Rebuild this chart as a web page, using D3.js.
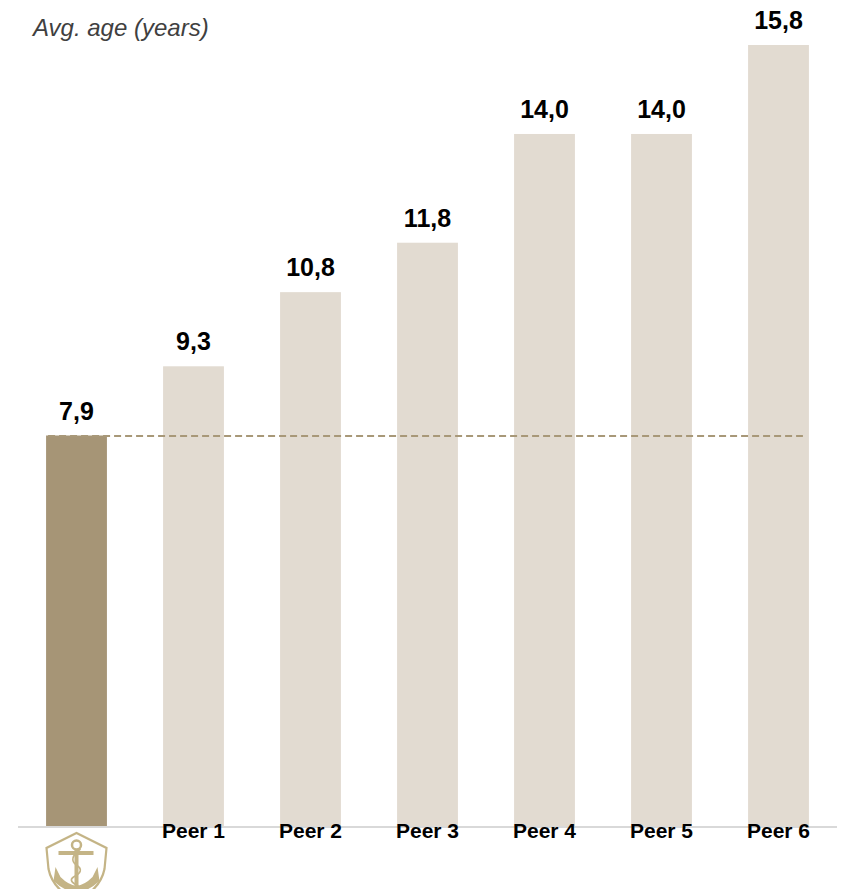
<!DOCTYPE html>
<html>
<head>
<meta charset="utf-8">
<script src="https://cdn.jsdelivr.net/npm/d3@7"></script>
<style>
  body { margin: 0; background: #fff; }
  text { font-family: "Liberation Sans", Arial, sans-serif; }
</style>
</head>
<body>
<script>
"use strict";

const categories = ["Own fleet", "Peer 1", "Peer 2", "Peer 3", "Peer 4", "Peer 5", "Peer 6"];
const ages = [7.9, 9.3, 10.8, 11.8, 14.0, 14.0, 15.8];
const valueLabels = ["7,9", "9,3", "10,8", "11,8", "14,0", "14,0", "15,8"];
const axisTitle = "Avg. age (years)";

const measurements = {
    width: 843,
    height: 889,
    baseline: 826,
    top: 45
};

const svgContainer = d3.select("body").append("svg")
    .attr("width", measurements.width)
    .attr("height", measurements.height);

const scaleX = d3.scaleBand()
    .domain(categories)
    .range([18, 837])
    .paddingInner(0.48)
    .paddingOuter(0.24);

const scaleY = d3.scaleLinear()
    .domain([0, 15.8])
    .range([measurements.baseline, measurements.top]);

// bars
svgContainer.selectAll(".bar")
    .data(ages)
    .enter()
    .append("rect")
    .attr("class", "bar")
    .attr("x", (d, i) => scaleX(categories[i]))
    .attr("y", d => scaleY(d))
    .attr("width", scaleX.bandwidth())
    .attr("height", d => measurements.baseline - scaleY(d))
    .attr("fill", (d, i) => i === 0 ? "#a69576" : "#e2dbd1");

// reference line at own fleet value
svgContainer.append("line")
    .attr("x1", scaleX(categories[0]) + 2)
    .attr("x2", scaleX(categories[6]) + scaleX.bandwidth() - 6)
    .attr("y1", scaleY(ages[0]) + 0.5)
    .attr("y2", scaleY(ages[0]) + 0.5)
    .attr("stroke", "#a89878")
    .attr("stroke-width", 2.2)
    .attr("stroke-dasharray", "7,4");

// baseline
svgContainer.append("line")
    .attr("x1", 18)
    .attr("x2", 837)
    .attr("y1", measurements.baseline + 1)
    .attr("y2", measurements.baseline + 1)
    .attr("stroke", "#d9d9d9")
    .attr("stroke-width", 2);

// value labels
svgContainer.selectAll(".value")
    .data(ages)
    .enter()
    .append("text")
    .attr("class", "value")
    .attr("x", (d, i) => scaleX(categories[i]) + scaleX.bandwidth() / 2)
    .attr("y", d => scaleY(d) - 16)
    .attr("text-anchor", "middle")
    .style("font-size", "25px")
    .style("font-weight", "bold")
    .attr("fill", "#000")
    .text((d, i) => valueLabels[i]);

// category labels (skip first, it gets the logo)
svgContainer.selectAll(".cat")
    .data(categories.slice(1))
    .enter()
    .append("text")
    .attr("class", "cat")
    .attr("x", d => scaleX(d) + scaleX.bandwidth() / 2)
    .attr("y", 838)
    .attr("text-anchor", "middle")
    .style("font-size", "21px")
    .style("font-weight", "bold")
    .attr("fill", "#000")
    .text(d => d);

// title
svgContainer.append("text")
    .attr("x", 33)
    .attr("y", 36)
    .style("font-size", "24px")
    .style("font-style", "italic")
    .attr("fill", "#404040")
    .text(axisTitle);

// anchor logo under first bar
const cx = scaleX(categories[0]) + scaleX.bandwidth() / 2;
const logo = svgContainer.append("g")
    .attr("transform", "translate(" + cx + ",833)");
const gold = "#c4b486";

logo.append("path")
    .attr("d", "M0,0 L-30,15 L-28,36 Q-24,56 0,68 Q24,56 28,36 L30,15 Z")
    .attr("fill", "#fff")
    .attr("stroke", gold)
    .attr("stroke-width", 2.2);

// ring
logo.append("circle")
    .attr("cx", 0).attr("cy", 12).attr("r", 4.5)
    .attr("fill", "none").attr("stroke", gold).attr("stroke-width", 2.5);
// stock
logo.append("rect")
    .attr("x", -18).attr("y", 18).attr("width", 35).attr("height", 4)
    .attr("fill", gold);
// shank
logo.append("rect")
    .attr("x", -2).attr("y", 16).attr("width", 4).attr("height", 42)
    .attr("fill", gold);
// rope
logo.append("path")
    .attr("d", "M4,16 Q-9,26 0,32 Q9,38 -3,44 Q-9,48 2,53")
    .attr("fill", "none").attr("stroke", gold).attr("stroke-width", 1.6);
// arms and flukes
logo.append("path")
    .attr("d", "M-21,34 L-23,48 Q-12,58 0,60 Q12,58 23,48 L21,34 L16,44 Q8,52 0,53 Q-8,52 -16,44 Z")
    .attr("fill", gold);
</script>
</body>
</html>
